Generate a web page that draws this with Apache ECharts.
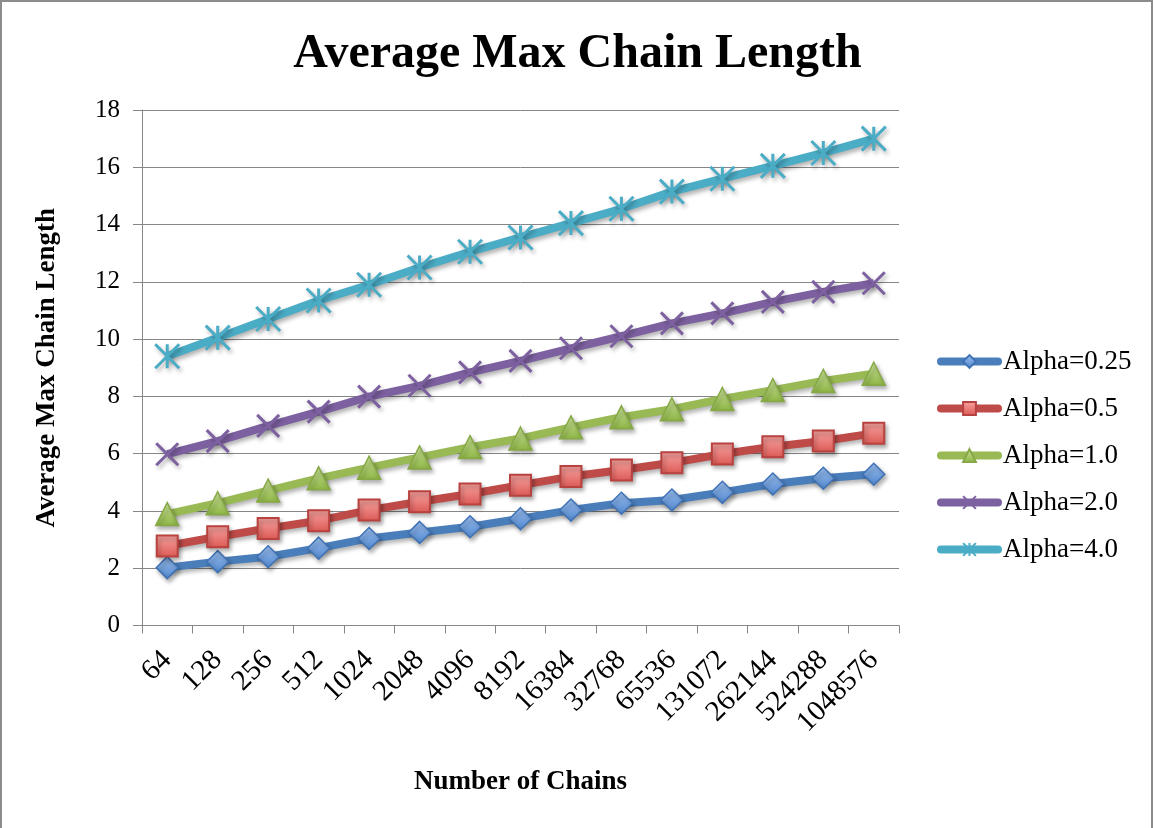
<!DOCTYPE html>
<html>
<head>
<meta charset="utf-8">
<title>Average Max Chain Length</title>
<script src="https://cdn.jsdelivr.net/npm/echarts@6.0.0/dist/echarts.min.js"></script>
<style>
  html, body { margin: 0; padding: 0; background: #fff; }
  #chart { width: 1155px; height: 828px; }
</style>
</head>
<body>
<div id="chart"></div>
<script>
const chains = ["64", "128", "256", "512", "1024", "2048", "4096", "8192", "16384",
  "32768", "65536", "131072", "262144", "524288", "1048576"];

const alpha025 = [2.02, 2.23, 2.4, 2.7, 3.04, 3.25, 3.45, 3.73, 4.03, 4.27, 4.38, 4.65, 4.94, 5.14, 5.28];
const alpha05 = [2.78, 3.1, 3.39, 3.66, 4.03, 4.32, 4.59, 4.9, 5.2, 5.43, 5.68, 5.99, 6.24, 6.44, 6.71];
const alpha10 = [3.89, 4.27, 4.71, 5.14, 5.51, 5.87, 6.23, 6.53, 6.92, 7.27, 7.55, 7.91, 8.22, 8.54, 8.79];
const alpha20 = [5.98, 6.44, 6.97, 7.47, 7.99, 8.37, 8.84, 9.24, 9.68, 10.1, 10.55, 10.9, 11.3, 11.65, 11.95];
const alpha40 = [9.4, 10.05, 10.7, 11.35, 11.9, 12.5, 13.05, 13.55, 14.05, 14.55, 15.15, 15.6, 16.05, 16.5, 17.0];

const serif = "'Liberation Serif', 'Times New Roman', serif";
const gridGray = "#868686";

const grad = (top, bottom) => new echarts.graphic.LinearGradient(0, 0, 0, 1, [
  { offset: 0, color: top },
  { offset: 1, color: bottom },
]);

const shadow = { shadowColor: "rgba(0,0,0,0.3)", shadowBlur: 4, shadowOffsetX: 2, shadowOffsetY: 3 };

const makeSeries = (name, data, lineColor, symbol, symbolSize, itemStyle) => ({
  name,
  type: "line",
  data,
  symbol,
  symbolSize,
  showAllSymbol: true,
  lineStyle: { color: lineColor, width: 8, ...shadow },
  itemStyle: { ...itemStyle, ...shadow },
  emphasis: { disabled: true },
  z: 2,
});

const series = [
  makeSeries("Alpha=0.25", alpha025, "#4a7ebb", "diamond", 22,
    { color: grad("#9dc0f0", "#4f85cc"), borderColor: "#3f72b5", borderWidth: 1.5 }),
  makeSeries("Alpha=0.5", alpha05, "#be4b48", "rect", 21,
    { color: grad("#f7a5a2", "#dc5854"), borderColor: "#b8423f", borderWidth: 2 }),
  makeSeries("Alpha=1.0", alpha10, "#98b954", "triangle", 23,
    { color: grad("#cde59c", "#8cb443"), borderColor: "#86a846", borderWidth: 1.5 }),
  makeSeries("Alpha=2.0", alpha20, "#7d60a0", "path://M0,0L10,10M10,0L0,10", 22,
    { color: "#7d60a0", borderColor: "#7d60a0", borderWidth: 3 }),
  makeSeries("Alpha=4.0", alpha40, "#4bacc6", "path://M5,0L5,10M0,0L10,10M10,0L0,10", 24,
    { color: "#4bacc6", borderColor: "#4bacc6", borderWidth: 3 }),
];

const chart = echarts.init(document.getElementById("chart"), null, { renderer: "canvas" });

chart.setOption({
  animation: false,
  backgroundColor: "#fff",
  textStyle: { fontFamily: serif, color: "#000" },
  graphic: [{
    type: "rect",
    shape: { x: 1, y: 1, width: 1151, height: 840 },
    style: { fill: "none", stroke: "#8c8c8c", lineWidth: 2 },
    silent: true,
  }],
  title: {
    text: "Average Max Chain Length",
    left: "center",
    top: 26,
    textStyle: { fontFamily: serif, fontWeight: "bold", fontSize: 48, color: "#000" },
  },
  legend: {
    orient: "vertical",
    left: 937,
    top: 348,
    padding: 0,
    itemWidth: 57,
    itemHeight: 16,
    itemGap: 20,
    lineStyle: { width: 8, cap: "round" },
    textStyle: { fontFamily: serif, fontSize: 27, lineHeight: 27, color: "#000" },
    data: series.map((s) => s.name),
  },
  grid: { left: 142, right: 256, top: 110, bottom: 202.5, containLabel: false },
  xAxis: {
    type: "category",
    data: chains,
    boundaryGap: true,
    name: "Number of Chains",
    nameLocation: "middle",
    nameGap: 143,
    nameTextStyle: { fontFamily: serif, fontWeight: "bold", fontSize: 27, color: "#000" },
    axisLine: { lineStyle: { color: gridGray, width: 1 } },
    axisTick: { show: true, length: 8, lineStyle: { color: gridGray } },
    axisLabel: { rotate: 45, margin: 30, fontFamily: serif, fontSize: 29, color: "#000", interval: 0 },
    splitLine: { show: false },
  },
  yAxis: {
    type: "value",
    min: 0,
    max: 18,
    interval: 2,
    name: "Average Max Chain Length",
    nameLocation: "middle",
    nameGap: 81,
    nameTextStyle: { fontFamily: serif, fontWeight: "bold", fontSize: 27, color: "#000" },
    axisLine: { show: true, lineStyle: { color: gridGray, width: 1 } },
    axisTick: { show: true, length: 9, lineStyle: { color: gridGray } },
    axisLabel: { margin: 22, fontFamily: serif, fontSize: 25, color: "#000" },
    splitLine: { show: true, lineStyle: { color: gridGray, width: 1 } },
  },
  series,
});

window.addEventListener("resize", () => chart.resize());
</script>
</body>
</html>
